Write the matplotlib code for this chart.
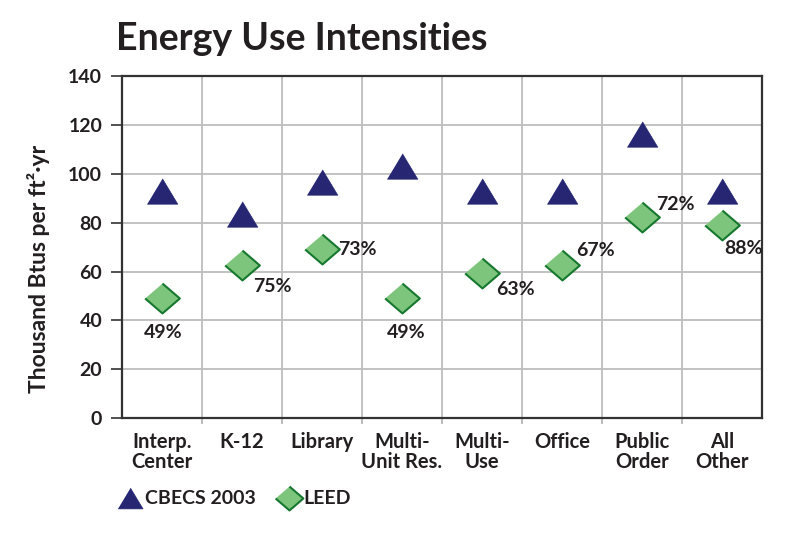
import matplotlib
matplotlib.use("Agg")
import matplotlib.pyplot as plt
from matplotlib.lines import Line2D

categories = ["Interp.\nCenter", "K-12", "Library", "Multi-\nUnit Res.", "Multi-\nUse",
              "Office", "Public\nOrder", "All\nOther"]
cbecs_2003 = [93, 83.5, 96.5, 103, 93, 93, 116, 93]
leed = [49.3, 62.5, 69, 49.3, 59.2, 62.7, 82.3, 78.9]
pct_labels = ["49%", "75%", "73%", "49%", "63%", "67%", "72%", "88%"]
y_ticks = [0, 20, 40, 60, 80, 100, 120, 140]

# label offsets (pixels) relative to LEED markers
label_offsets = [(2, -35), (31, -21), (36, 0), (4, -35), (33, -16), (33, 14), (33, 12), (21, -23)]

FONT = ["DejaVu Sans Condensed", "Lato", "DejaVu Sans"]
plt.rcParams['font.family'] = FONT
plt.rcParams['font.weight'] = 'bold'
TXT = "#231f20"
NAVY = "#262673"
GREEN_FACE = "#7dc47d"
GREEN_EDGE = "#16782e"

tri = [(-1, -0.83), (1, -0.83), (0, 0.83)]
dia = [(0, 0.86), (1, 0), (0, -0.86), (-1, 0)]

fig = plt.figure(figsize=(8, 5.35), dpi=100)
ax = fig.add_axes([0.152, 0.2178, 0.801, 0.641])

x = list(range(len(categories)))
ax.plot(x, cbecs_2003, linestyle="none", marker=tri, markersize=22,
        markerfacecolor=NAVY, markeredgecolor=NAVY, markeredgewidth=0.5, zorder=3)
ax.plot(x, leed, linestyle="none", marker=dia, markersize=25,
        markerfacecolor=GREEN_FACE, markeredgecolor=GREEN_EDGE, markeredgewidth=1.5, zorder=3)

for xi, yi, lab, off in zip(x, leed, pct_labels, label_offsets):
    ax.annotate(lab, (xi, yi), xytext=off, textcoords="offset pixels",
                ha="center", va="center", fontsize=14, color=TXT, fontweight="bold")

ax.set_xlim(-0.5, len(categories) - 0.5)
ax.set_ylim(0, 140)
ax.set_yticks(y_ticks)
ax.set_yticklabels([str(v) for v in y_ticks], fontsize=14, color=TXT, fontweight="bold")
ax.set_xticks(x)
ax.set_xticklabels(categories, fontsize=14.5, color=TXT, fontweight="bold", linespacing=1.0)
ax.set_xticks([i + 0.5 for i in range(len(categories) - 1)], minor=True)

ax.tick_params(axis="x", which="major", length=0, pad=10)
ax.tick_params(axis="x", which="minor", length=4, color="#b0b0b0", width=1.2, direction="out")
ax.tick_params(axis="y", which="major", length=8, width=1.2, color="#333333", pad=6)

ax.grid(True, which="major", axis="y", color="#bdbdbd", linewidth=1.3, zorder=0)
ax.grid(True, which="minor", axis="x", color="#bdbdbd", linewidth=1.3, zorder=0)
ax.set_axisbelow(True)
for s in ax.spines.values():
    s.set_color("#333333")
    s.set_linewidth(1.6)

ax.set_ylabel("Thousand Btus per ft²·yr", fontsize=16.5, color=TXT, fontweight="bold")
ax.yaxis.set_label_coords(-0.112, 0.435)

fig.text(116 / 800, 1 - 39 / 535, "Energy Use Intensities", fontsize=27, color=TXT,
         fontweight="bold", ha="left", va="center")

handles = [
    Line2D([], [], linestyle="none", marker=tri, markersize=18, markerfacecolor=NAVY,
           markeredgecolor=NAVY, markeredgewidth=0.5, label="CBECS 2003"),
    Line2D([], [], linestyle="none", marker=dia, markersize=20, markerfacecolor=GREEN_FACE,
           markeredgecolor=GREEN_EDGE, markeredgewidth=1.5, label="LEED"),
]
leg = fig.legend(handles=handles, loc="center left", bbox_to_anchor=(101 / 800, 1 - 499 / 535),
                 ncol=2, frameon=False, handlelength=1.2, handletextpad=0.15, columnspacing=1.1,
                 prop={"family": FONT, "weight": "bold", "size": 14})
for t in leg.get_texts():
    t.set_color(TXT)

fig.savefig("out.png", dpi=100)
